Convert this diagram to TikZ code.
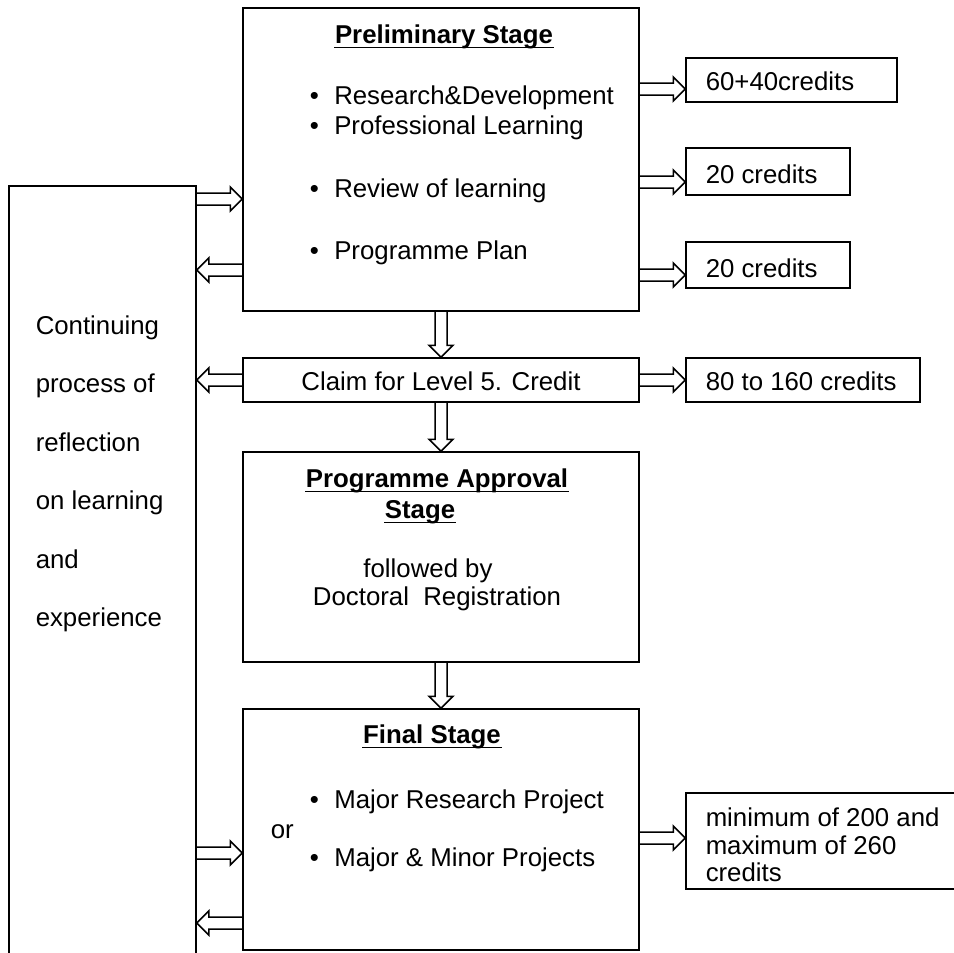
\documentclass[tikz,border=0pt]{standalone}
\usepackage{fontspec}
\setmainfont{Liberation Sans}
\usetikzlibrary{calc}
\newcommand{\bul}{\textbullet\hspace{0.6em}}
\begin{document}
\begin{tikzpicture}[x=1pt, y=-1pt, line width=1.5pt, font=\fontsize{25.8}{30}\selectfont,
	stagebox/.style={draw, inner sep=0pt},
	txt/.style={anchor=base west, inner sep=0pt},
	ctxt/.style={anchor=base, inner sep=0pt},
	hd/.style={ctxt, font=\fontsize{25.8}{30}\selectfont\bfseries},
	blockarr/.style={to path={let \p1=(\tikztostart), \p2=(\tikztotarget), \p3=($(\p2)!12pt!(\p1)$) in
		($(\p1)!6pt!90:(\p2)$) -- ($(\p3)!6pt!90:(\p2)$) -- ($(\p3)!12pt!90:(\p2)$) -- (\p2)
		-- ($(\p3)!12pt!-90:(\p2)$) -- ($(\p3)!6pt!-90:(\p2)$) -- ($(\p1)!6pt!-90:(\p2)$)}}]
	\useasboundingbox (0,0) rectangle (954,953);
	% boxes
	\node[stagebox, minimum width=187, minimum height=784] (refl) at (102.5,578) {};
	\node[stagebox, minimum width=396, minimum height=303] (prel) at (441,159.5) {};
	\node[stagebox, minimum width=396, minimum height=44] (claim) at (441,380) {};
	\node[stagebox, minimum width=396, minimum height=210] (appr) at (441,557) {};
	\node[stagebox, minimum width=396, minimum height=241] (final) at (441,829.5) {};
	\node[stagebox, minimum width=211, minimum height=44] (r1) at (791.5,80) {};
	\node[stagebox, minimum width=164, minimum height=47] (r2) at (768,171.5) {};
	\node[stagebox, minimum width=164, minimum height=46] (r3) at (768,265) {};
	\node[stagebox, minimum width=234, minimum height=44] (r4) at (803,380) {};
	\node[stagebox, minimum width=304, minimum height=96] (r5) at (838,841) {};
	% texts
	\foreach \w [count=\i from 0] in {Continuing, process of, reflection, on learning, and, experience}
		\node[txt] (lt\i) at (35,334+58.5*\i) {\w};
	\node[hd] (prelhd) at (444,43) {Preliminary Stage};
	\node[txt] (p1) at (309,104) {\bul Research\&Development};
	\node[txt] (p2) at (309,134) {\bul Professional Learning};
	\node[txt] (p3) at (309,197) {\bul Review of learning};
	\node[txt] (p4) at (309,259) {\bul Programme Plan};
	\node[ctxt] (claimtx) at (441,390) {Claim for Level 5. Credit};
	\node[hd] (apprhd) at (437,487) {Programme Approval};
	\node[hd] (apprhd2) at (420,518) {Stage};
	\node[ctxt] (appr1) at (428,577) {followed by};
	\node[ctxt] (appr2) at (437,605) {Doctoral\ \ Registration};
	\node[hd] (finalhd) at (432,743) {Final Stage};
	\node[txt] (f1) at (309,808) {\bul Major Research Project};
	\node[txt] (for) at (270,838) {or};
	\node[txt] (f2) at (309,866) {\bul Major \& Minor Projects};
	\node[txt] (r1tx) at (705,90) {60+40credits};
	\node[txt] (r2tx) at (705,183) {20 credits};
	\node[txt] (r3tx) at (705,277) {20 credits};
	\node[txt] (r4tx) at (705,390) {80 to 160 credits};
	\node[txt] (r5a) at (705,826) {minimum of 200 and};
	\node[txt] (r5b) at (705,854) {maximum of 260};
	\node[txt] (r5c) at (705,881) {credits};
	% underlines
	\foreach \n in {prelhd, apprhd, apprhd2, finalhd}
		\draw[line width=1.8pt] ([yshift=-4.5pt]\n.base west) -- ([yshift=-4.5pt]\n.base east);
	% arrows
	\draw[blockarr] (prel.east |- 0,89) to (r1.west |- 0,89);
	\draw[blockarr] (prel.east |- 0,182) to (r2.west |- 0,182);
	\draw[blockarr] (prel.east |- 0,275) to (r3.west |- 0,275);
	\draw[blockarr] (refl.east |- 0,199) to (prel.west |- 0,199);
	\draw[blockarr] (prel.west |- 0,270) to (refl.east |- 0,270);
	\draw[blockarr] (prel.south) to (claim.north);
	\draw[blockarr] (claim.west) to (refl.east |- claim.west);
	\draw[blockarr] (claim.east) to (r4.west);
	\draw[blockarr] (claim.south) to (appr.north);
	\draw[blockarr] (appr.south) to (final.north);
	\draw[blockarr] (refl.east |- 0,853) to (final.west |- 0,853);
	\draw[blockarr] (final.west |- 0,923) to (refl.east |- 0,923);
	\draw[blockarr] (final.east |- 0,838) to (r5.west |- 0,838);
\end{tikzpicture}
\end{document}
